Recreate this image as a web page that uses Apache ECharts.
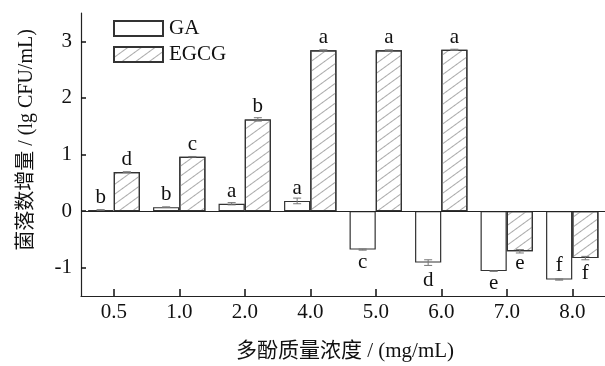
<!DOCTYPE html>
<html>
<head>
<meta charset="utf-8">
<script src="https://cdn.jsdelivr.net/npm/echarts@6/dist/echarts.min.js"></script>
<style>html,body{margin:0;padding:0;background:#fff;}#c{width:605px;height:366px;}</style>
</head>
<body>
<div id="c"></div>
<script>
const categories = ['0.5', '1.0', '2.0', '4.0', '5.0', '6.0', '7.0', '8.0'];
const gaValues = [0.02, 0.07, 0.13, 0.18, -0.68, -0.91, -1.06, -1.21];
const gaErrors = [0.005, 0.005, 0.02, 0.05, 0.01, 0.05, 0.005, 0.01];
const gaLetters = ['b', 'b', 'a', 'a', 'c', 'd', 'e', 'f'];
const egcgValues = [0.69, 0.96, 1.62, 2.84, 2.84, 2.85, -0.71, -0.83];
const egcgErrors = [0.005, 0.005, 0.03, 0.01, 0.01, 0.01, 0.03, 0.03];
const egcgLetters = ['d', 'c', 'b', 'a', 'a', 'a', 'e', 'f'];
const yTickValues = [-1, 0, 1, 2, 3];
const yMin = -1.5;
const yMax = 3.5;
const xTitle = '多酚质量浓度 / (mg/mL)';
const yTitle = '菌落数增量 / (lg CFU/mL)';

const FONT = '"Liberation Serif", "Noto Sans CJK SC", serif';
const FS = 21;
const chart = echarts.init(document.getElementById('c'), null, {renderer: 'canvas'});

function barItems(values, letters, overrides) {
  return values.map((v, i) => {
    const o = overrides[i] || {};
    return {
      value: v,
      label: Object.assign({
        show: true,
        formatter: letters[i],
        position: v >= 0 ? 'top' : 'bottom',
        distance: 2
      }, o)
    };
  });
}

function errRender(side) {
  return function (params, api) {
    const i = api.value(0), v = api.value(1), e = api.value(2);
    const band = api.size([1, 0])[0];
    const bw = band * 0.8 / 2;
    const x = api.coord([i, v])[0] + side * bw / 2;
    const yHi = api.coord([i, v + e])[1];
    const yLo = api.coord([i, v - e])[1];
    const cap = 4;
    const st = {stroke: '#777', lineWidth: 1};
    return {
      type: 'group',
      children: [
        {type: 'line', shape: {x1: x, y1: yHi, x2: x, y2: yLo}, style: st},
        {type: 'line', shape: {x1: x - cap, y1: yHi, x2: x + cap, y2: yHi}, style: st},
        {type: 'line', shape: {x1: x - cap, y1: yLo, x2: x + cap, y2: yLo}, style: st}
      ]
    };
  };
}

const labelStyle = {fontFamily: FONT, fontSize: FS, color: '#111'};

const option = {
  animation: false,
  backgroundColor: '#fff',
  grid: {left: 81, right: -2, top: 13, bottom: 70, containLabel: false},
  legend: {
    data: ['GA', 'EGCG'],
    orient: 'vertical',
    left: 113,
    top: 18,
    padding: 0,
    itemWidth: 49,
    itemHeight: 15,
    itemGap: 5,
    icon: 'rect',
    textStyle: {fontFamily: FONT, fontSize: FS, color: '#111', padding: [0, 0, 0, 1]}
  },
  xAxis: {
    type: 'category',
    data: categories,
    boundaryGap: true,
    axisLine: {onZero: false, lineStyle: {color: '#222', width: 1.2}},
    axisTick: {show: true, inside: true, alignWithLabel: true, length: 7, lineStyle: {color: '#111', width: 1.5}},
    axisLabel: {fontFamily: FONT, fontSize: FS, color: '#111', margin: 6},
    splitLine: {show: false}
  },
  yAxis: {
    type: 'value',
    min: yMin,
    max: yMax,
    axisLine: {show: true, lineStyle: {color: '#222', width: 1.2}},
    axisTick: {show: true, inside: true, length: 5, customValues: yTickValues, lineStyle: {color: '#111', width: 1.5}},
    axisLabel: {fontFamily: FONT, fontSize: FS, color: '#111', margin: 9, customValues: yTickValues},
    splitLine: {show: false}
  },
  graphic: [
    {type: 'text', x: 345, y: 351, style: {text: xTitle, font: FS + 'px ' + FONT, fill: '#111', textAlign: 'center', textVerticalAlign: 'middle'}},
    {type: 'text', x: 27, y: 140, rotation: Math.PI / 2, style: {text: yTitle, font: '20px ' + FONT, fill: '#111', textAlign: 'center', textVerticalAlign: 'middle'}}
  ],
  series: [
    {
      name: 'GA',
      type: 'bar',
      barGap: '0%',
      barCategoryGap: '20%',
      itemStyle: {color: '#fff', borderColor: '#333', borderWidth: 1.2},
      label: labelStyle,
      data: barItems(gaValues, gaLetters, {5: {distance: 7}, 7: {position: 'insideBottom', distance: 4}}),
      markLine: {
        silent: true,
        symbol: 'none',
        label: {show: false},
        lineStyle: {color: '#222', width: 1.2, type: 'solid'},
        data: [{yAxis: 0}]
      },
      z: 2
    },
    {
      name: 'EGCG',
      type: 'bar',
      barGap: '0%',
      barCategoryGap: '20%',
      itemStyle: {
        color: '#fff', borderColor: '#333', borderWidth: 1.2,
        decal: {symbol: 'rect', symbolSize: 1, dashArrayX: [1, 0], dashArrayY: [1, 7], rotation: -Math.PI / 5, color: '#aaa'}
      },
      label: labelStyle,
      data: barItems(egcgValues, egcgLetters, {7: {distance: 5}}),
      z: 2
    },
    {
      name: 'GA-err',
      type: 'custom',
      renderItem: errRender(-1),
      data: gaValues.map((v, i) => [i, v, gaErrors[i]]),
      encode: {x: 0, y: 1},
      z: 3,
      silent: true
    },
    {
      name: 'EGCG-err',
      type: 'custom',
      renderItem: errRender(1),
      data: egcgValues.map((v, i) => [i, v, egcgErrors[i]]),
      encode: {x: 0, y: 1},
      z: 3,
      silent: true
    }
  ]
};
chart.setOption(option);
</script>
</body>
</html>
